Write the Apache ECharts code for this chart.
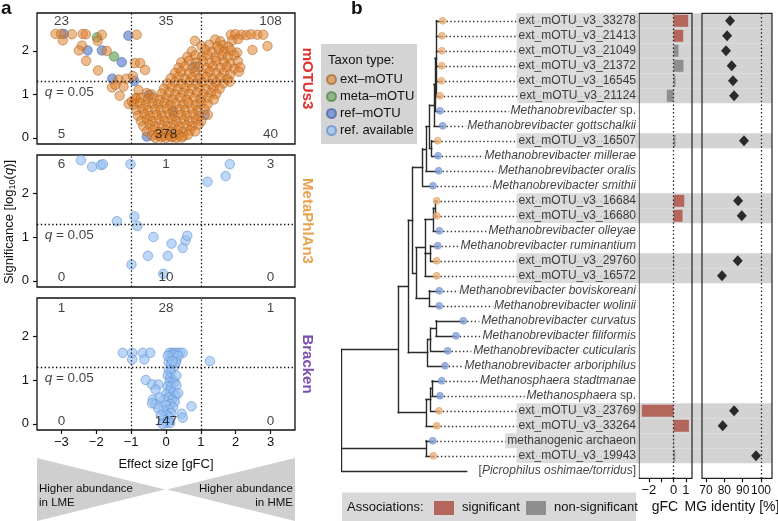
<!DOCTYPE html>
<html><head><meta charset="utf-8">
<script src="https://cdn.jsdelivr.net/npm/echarts@6/dist/echarts.min.js"></script>
<style>html,body{margin:0;padding:0;background:#fff}#c{width:778px;height:521px}</style>
</head><body><div id="c"></div>
<script>
// ---------------- DATA ----------------
// Panel a: mOTUs3 (effect size gFC, significance -log10 q)
const motusExt = [
[-3.17,2.39],[-3.01,2.39],[-2.96,2.24],[-2.7,2.38],[-2.39,2.39],[-2.3,2.38],[-2.41,2.12],[-2.5,2.01],[-2.29,1.77],[-1.96,2.23],[-1.84,2.37],[-1.7,2.0],[-1.95,1.55],[-1.36,1.34],[-1.14,1.36],
[-1.55,1.16],[-1.33,0.97],[-1.07,0.78],[-1.22,1.18],[-1.45,1.22],
[-0.84,2.37],[-0.89,1.72],[-0.74,1.72],[-0.6,1.56],[-0.79,1.1],[-0.98,0.84],[-0.84,0.92],[-0.95,1.42],
[1.86,2.37],[1.99,2.38],[2.16,2.37],[2.31,2.36],[2.44,2.38],[2.62,2.37],[2.79,2.37],
[0.83,2.23],[1.41,2.26],[1.56,2.22],[1.9,2.24],[2.07,2.27],
[1.02,2.11],[1.24,2.14],[1.47,2.1],[1.63,2.13],[1.79,2.09],[2.91,2.11],
[0.74,1.99],[1.12,2.02],[1.31,1.97],[1.52,2.03],[1.67,1.98],[1.86,2.01],[2.04,1.96],[2.48,2.02],
[0.61,1.86],[0.84,1.9],[1.04,1.87],[1.19,1.91],[1.42,1.85],[1.61,1.89],[1.77,1.86],[1.96,1.9],
[0.44,1.74],[0.66,1.77],[0.86,1.73],[1.06,1.76],[1.26,1.72],[1.44,1.77],[1.66,1.74],[1.84,1.71],[2.06,1.76],
[0.36,1.61],[0.54,1.64],[0.76,1.6],[0.94,1.63],[1.16,1.6],[1.34,1.64],[1.56,1.61],[1.74,1.63],[1.96,1.59],[2.13,1.62],
[0.26,1.49],[0.44,1.52],[0.66,1.48],[0.84,1.51],[1.06,1.47],[1.26,1.52],[1.44,1.49],[1.66,1.5],[1.84,1.46],[2.09,1.52],
[0.14,1.37],[0.36,1.4],[0.54,1.36],[0.76,1.39],[0.94,1.37],[1.16,1.4],[1.34,1.36],[1.56,1.38],[1.76,1.35],
[0.04,1.25],[0.26,1.28],[0.44,1.24],[0.66,1.27],[0.86,1.25],[1.04,1.28],[1.26,1.24],[1.44,1.27],[1.64,1.25],[1.83,1.29],
[-0.06,1.13],[0.16,1.16],[0.34,1.12],[0.56,1.15],[0.74,1.13],[0.96,1.16],[1.14,1.12],[1.36,1.15],[1.54,1.13],
[-0.55,1.03],[-0.41,1.0],[-0.12,1.02],[0.09,1.04],[0.27,1.0],[0.49,1.03],[0.67,1.01],[0.89,1.04],[1.07,1.0],[1.29,1.03],[1.44,1.01],
[-0.88,0.9],[-0.71,0.92],[-0.52,0.89],[-0.36,0.91],[-0.17,0.88],[0.01,0.91],[0.19,0.89],[0.41,0.92],[0.59,0.88],[0.81,0.91],[0.99,0.89],[1.21,0.92],[1.37,0.88],
[-0.92,0.77],[-0.74,0.8],[-0.58,0.76],[-0.39,0.79],[-0.23,0.77],[-0.04,0.8],[0.13,0.76],[0.29,0.79],[0.49,0.77],[0.65,0.8],[0.85,0.76],[1.01,0.79],[1.19,0.77],
[-0.85,0.64],[-0.67,0.67],[-0.51,0.63],[-0.31,0.66],[-0.16,0.64],[0.03,0.67],[0.19,0.63],[0.39,0.66],[0.55,0.64],[0.75,0.67],[0.91,0.63],[1.11,0.66],
[-0.8,0.51],[-0.61,0.54],[-0.46,0.5],[-0.27,0.53],[-0.11,0.51],[0.09,0.54],[0.24,0.5],[0.43,0.53],[0.59,0.51],[0.79,0.54],[0.95,0.5],[1.2,0.53],
[-0.72,0.39],[-0.54,0.42],[-0.39,0.38],[-0.19,0.41],[-0.04,0.39],[0.16,0.42],[0.31,0.38],[0.51,0.41],[0.67,0.39],[0.87,0.42],[1.01,0.38],
[-0.65,0.27],[-0.47,0.3],[-0.31,0.26],[-0.11,0.29],[0.04,0.27],[0.23,0.3],[0.39,0.26],[0.59,0.29],[0.75,0.27],[0.93,0.3],
[-0.55,0.15],[-0.37,0.18],[-0.21,0.14],[-0.01,0.17],[0.14,0.15],[0.33,0.18],[0.49,0.14],[0.69,0.17],[0.84,0.15],
[-0.4,0.05],[-0.24,0.07],[-0.1,0.04],[0.06,0.06],[0.19,0.03],[0.36,0.06],[0.5,0.04],[0.63,0.07],
[-0.3,0.0],[-0.14,0.01],[0.0,0.0],[0.16,0.01],[0.3,0.0],[0.45,0.01]
];
const motusMeta = [[-1.98,2.31],[-1.49,1.87]];
const motusRef = [[-2.93,2.39],[-2.25,2.01],[-1.84,2.01],[-1.27,1.74],[-1.08,2.35],[-1.54,1.36],[-0.91,1.31],[-0.49,0.99],[-0.55,0.03],[0.83,1.64],[1.11,0.53],[0.2,0.6]];
// Panel a: MetaPhlAn3
const metaphlanPts = [[-2.44,2.75],[-2.12,2.6],[-1.87,2.64],[-1.81,2.66],[-1.02,2.66],[-1.41,1.36],[-0.91,1.47],[-0.82,1.25],[-0.36,1.0],[-0.52,0.57],[0.05,0.57],[0.16,0.85],[0.48,0.75],[0.56,0.92],[0.61,1.03],[-0.99,0.37],[-0.08,0.16],[1.83,2.66],[1.71,2.39],[1.19,2.26]];
// Panel a: Bracken
const brackenPts = [
[-1.24,1.62],[-0.97,1.62],[-0.97,1.47],[-0.67,1.62],[-0.62,1.47],[-0.45,1.62],[0.1,1.62],[0.18,1.62],[0.25,1.62],[0.32,1.62],[0.4,1.62],[0.48,1.62],[0.12,1.5],[0.2,1.5],[0.3,1.45],[0.08,1.4],[0.15,1.35],[0.25,1.32],[0.22,1.57],[0.35,1.55],[0.05,1.55],[0.28,1.4],[0.18,1.43],[1.26,1.43],
[0.08,1.22],[0.14,1.18],[0.05,1.1],[0.12,1.05],[0.2,1.0],[0.1,0.95],[0.25,0.95],[0.05,0.85],[0.15,0.85],[0.3,0.88],[0.1,0.75],[0.2,0.72],[0.0,0.68],[0.28,0.65],[0.08,0.6],[0.18,0.55],[-0.05,0.55],[0.25,0.5],[0.12,0.45],[0.0,0.42],[0.2,0.38],[0.08,0.32],[-0.08,0.3],[0.15,0.25],[0.02,0.2],[0.1,0.15],[-0.05,0.1],[0.05,0.05],[0.0,0.02],[0.12,0.02],[-0.1,0.0],
[-0.58,1.0],[-0.4,0.9],[-0.22,0.9],[-0.3,0.78],[-0.38,0.55],[-0.3,0.45],[-0.22,0.35],[-0.4,0.47],[-0.18,0.6],[-0.15,0.2],[0.73,0.4],[0.45,0.23],[0.48,0.14],[0.35,0.7],[0.3,1.1]
];
// quadrant counts: [top-left, top-mid, top-right, bottom-left, bottom-mid, bottom-right]
const countsMotus = [23,35,108,5,378,40];
const countsMetaphlan = [6,1,3,0,10,0];
const countsBracken = [1,28,1,0,147,0];
const xTicksA = [-3,-2,-1,0,1,2,3];
const yTicksA = [0,1,2];

// Panel b
const rowLabels = ['ext_mOTU_v3_33278','ext_mOTU_v3_21413','ext_mOTU_v3_21049','ext_mOTU_v3_21372','ext_mOTU_v3_16545','ext_mOTU_v3_21124',
'Methanobrevibacter sp.','Methanobrevibacter gottschalkii','ext_mOTU_v3_16507','Methanobrevibacter millerae','Methanobrevibacter oralis','Methanobrevibacter smithii',
'ext_mOTU_v3_16684','ext_mOTU_v3_16680','Methanobrevibacter olleyae','Methanobrevibacter ruminantium','ext_mOTU_v3_29760','ext_mOTU_v3_16572',
'Methanobrevibacter boviskoreani','Methanobrevibacter wolinii','Methanobrevibacter curvatus','Methanobrevibacter filiformis','Methanobrevibacter cuticularis','Methanobrevibacter arboriphilus',
'Methanosphaera stadtmanae','Methanosphaera sp.','ext_mOTU_v3_23769','ext_mOTU_v3_33264','methanogenic archaeon','ext_mOTU_v3_19943','[Picrophilus oshimae/torridus]'];
const tipTypes = ['ext','ext','ext','ext','ext','ext','ref','ref','ext','ref','ref','ref','ext','ext','ref','ref','ext','ext','ref','ref','ref','ref','ref','ref','ref','ref','ext','ext','ref','ext',null];
const highlightRows = [1,2,3,4,5,6,9,13,14,17,18,27,28,29,30];
const gfcValues = [1.19,0.79,0.41,0.81,0.16,-0.54,null,null,0.16,null,null,null,0.87,0.73,null,null,0.05,null,null,null,null,null,null,null,null,null,-2.57,1.25,0.05,0.14,null];
const gfcSignificant = [1,1,0,0,0,0,0,0,0,0,0,0,1,1,0,0,0,0,0,0,0,0,0,0,0,0,1,1,0,0,0];
const mgIdentity = [83.1,81.5,80.9,84.0,84.7,85.3,null,null,90.7,null,null,null,87.5,89.5,null,null,87.3,78.7,null,null,null,null,null,null,null,null,85.3,79.1,null,97.3,null];
const gfcTicks = [-2,-1,0,1];
const gfcTickLabels = [-2,0,1];
const mgTicks = [70,80,90,100];
// tree (Newick, branch lengths)
const cladeMbrevA = "((((((t1:6.2,t2:5.5,t3:5.2,t4:5.2,t5:4.8,t6:3.5):1.5,t7:5.0):1.0,t8:8.7):4.5,(t9:6.0,t10:6.3):2.2):3.5,t11:12.7):3.3,t12:10.3)";
const cladeMbrevB = "((((t13:1.7,t14:1.7):1.7,t15:6.0):8.3,(t16:7.0,t17:6.0):5.7,t18:11.7):9.0,(t19:10,t20:10):13.3)";
const cladeMbrevC = "(((t21:27.3,t22:20.0):5.3,t23:17.0):3.0,t24:17.3)";
const cladeMsph = "(((t25:9.7,t26:8.0):1.3,t27:8.3):4.7,t28:10.7)";
const cladeOther = "(t29:6.7,t30:7.3)";
const treeNewick = "((((" + cladeMbrevA + ":10," + cladeMbrevB + ":3.3):4.4," + cladeMbrevC + ":19.4):10.0," + cladeMsph + ":27.7):56.6," + cladeOther + ":84.3,t31:125);";

// ---------------- BUILD ----------------
const FF = '"Liberation Sans", Arial, Helvetica, sans-serif';
const C_EXT = 'rgba(224,130,44,0.68)', B_EXT = 'rgba(165,90,25,0.8)';
const C_META = 'rgba(115,170,105,0.9)', B_META = 'rgba(80,130,70,0.9)';
const C_REF = 'rgba(95,130,205,0.85)', B_REF = 'rgba(65,100,170,0.9)';
const C_AV = 'rgba(150,192,242,0.8)', B_AV = 'rgba(95,140,208,0.9)';
const SIG = '#b4665c', NSIG = '#8e8e8e', BAND = '#d3d3d3';
const minus = v => v < 0 ? '\u2212' + Math.abs(v) : String(v);

function parseNewick(s){
  let i = 0;
  function node(){
    const n = {children: [], name: '', len: 0};
    if (s[i] === '('){ i++; n.children.push(node()); while (s[i] === ','){ i++; n.children.push(node()); } i++; }
    let name = ''; while (i < s.length && !':,);'.includes(s[i])) name += s[i++];
    n.name = name;
    if (s[i] === ':'){ i++; let num = ''; while (i < s.length && !',);'.includes(s[i])) num += s[i++]; n.len = parseFloat(num); }
    return n;
  }
  return node();
}
const tree = parseNewick(treeNewick);
const segs = [], tips = [];
(function lay(n, d){
  n.d = d + n.len;
  if (n.children.length){ n.children.forEach(c => lay(c, n.d)); n.y = (n.children[0].y + n.children[n.children.length-1].y) / 2; }
  else { n.y = parseInt(n.name.slice(1)); tips.push(n); }
})(tree, 0);
(function col(n){
  if (!n.children.length) return;
  const ys = n.children.map(c => c.y);
  segs.push({coords: [[n.d, Math.min(...ys)], [n.d, Math.max(...ys)]]});
  n.children.forEach(c => { segs.push({coords: [[n.d, c.y], [c.d, c.y]]}); col(c); });
})(tree);

const TREE_W = 297.3;
const rowIds = rowLabels.map((_, k) => String(k + 1));

function richLabel(s){
  if (s[0] === '[') return '{n|[}{i|' + s.slice(1, -1) + '}{n|]}';
  if (/^Methano/.test(s)) { if (s.endsWith(' sp.')) return '{i|' + s.slice(0, -4) + '}{n| sp.}'; return '{i|' + s + '}'; }
  return '{n|' + s + '}';
}

const dotted = [1.4, 2.4];
function markLinesA(){
  return {silent: true, symbol: 'none', label: {show: false}, animation: false,
    lineStyle: {color: '#111', type: dotted, width: 1.3},
    data: [{xAxis: -1}, {xAxis: 1}, {yAxis: 1.301}]};
}
function countSeries(gi, counts, yTop, yBot){
  const xs = [-3, 0, 3];
  const data = counts.map((c, k) => ({value: [xs[k % 3], k < 3 ? yTop : yBot], label: {formatter: String(c)}}));
  data.push({value: [-3.48, 1.05], label: {formatter: '{i|q}{n| = 0.05}', position: 'right', distance: 0}});
  return {type: 'scatter', xAxisIndex: gi, yAxisIndex: gi, symbolSize: 0, silent: true, z: 6, data,
    label: {show: true, position: 'inside', fontSize: 13.5, color: '#111', fontFamily: FF,
      rich: {i: {fontStyle: 'italic', fontSize: 13.5, fontFamily: FF, color: '#111'}, n: {fontSize: 13.5, fontFamily: FF, color: '#111'}}}};
}
function scatterA(name, gi, data, col, bor, extra){
  return Object.assign({type: 'scatter', name, xAxisIndex: gi, yAxisIndex: gi, data, symbolSize: 9.5, silent: true,
    itemStyle: {color: col, borderColor: bor, borderWidth: 0.8}}, extra || {});
}

const aGrids = [{top: 13, height: 131}, {top: 155, height: 132}, {top: 298, height: 132}];
const grids = aGrids.map(g => ({left: 37, width: 258, top: g.top, height: g.height, show: true, borderColor: '#111', borderWidth: 1.3, backgroundColor: 'transparent'}));
const bTop = 13.3, bH = 465;
grids.push({left: 341.7, width: TREE_W, top: bTop, height: bH, show: false});
grids.push({left: 639, width: 53, top: bTop, height: bH, show: true, borderColor: '#222', borderWidth: 1.2, backgroundColor: 'transparent', z: 3});
grids.push({left: 702, width: 70, top: bTop, height: bH, show: true, borderColor: '#222', borderWidth: 1.2, backgroundColor: 'transparent', z: 3});

const axLabel = {fontSize: 13, color: '#111', fontFamily: FF};
const noLine = {show: false, onZero: false};
const xAxes = [0, 1, 2].map(i => ({type: 'value', gridIndex: i, min: -3.7, max: 3.7,
  axisLine: noLine, splitLine: {show: false},
  axisTick: {show: i === 2, length: 4, lineStyle: {color: '#111', width: 1.2}, customValues: xTicksA},
  axisLabel: Object.assign({show: i === 2, margin: 6, customValues: xTicksA, formatter: minus}, axLabel)}));
xAxes.push({type: 'value', gridIndex: 3, min: 0, max: TREE_W, show: false});
xAxes.push({type: 'value', gridIndex: 4, min: -2.8, max: 1.5, axisLine: noLine, splitLine: {show: false},
  axisTick: {show: true, length: 4, lineStyle: {color: '#111', width: 1.2}, customValues: gfcTicks},
  axisLabel: Object.assign({margin: 6, customValues: gfcTickLabels, formatter: minus}, axLabel)});
xAxes.push({type: 'value', gridIndex: 5, min: 67.8, max: 106, axisLine: noLine, splitLine: {show: false},
  axisTick: {show: true, length: 4, lineStyle: {color: '#111', width: 1.2}, customValues: mgTicks},
  axisLabel: Object.assign({margin: 6, customValues: mgTicks}, axLabel, {fontSize: 12})});

const yAxes = [0, 1, 2].map(i => ({type: 'value', gridIndex: i, min: -0.14, max: 2.87,
  axisLine: noLine, splitLine: {show: false},
  axisTick: {show: true, length: 4, lineStyle: {color: '#111', width: 1.2}, customValues: yTicksA},
  axisLabel: Object.assign({margin: 8, customValues: yTicksA}, axLabel)}));
yAxes.push({type: 'value', gridIndex: 3, min: 0.5, max: 31.5, inverse: true, show: false});
yAxes.push({type: 'category', gridIndex: 4, data: rowIds, inverse: true, show: false});
yAxes.push({type: 'category', gridIndex: 5, data: rowIds, inverse: true, show: false});

function bandSeries(gi, extL, extR){
  return {type: 'custom', xAxisIndex: gi, yAxisIndex: gi, silent: true, z: 0, clip: false,
    data: highlightRows.map(r => [0, r - 1]),
    encode: {x: 0, y: 1},
    renderItem: (params, api) => {
      const p = api.coord([api.value(0), api.value(1)]);
      const h = api.size([0, 1])[1];
      const cs = params.coordSys;
      return {type: 'rect', shape: {x: cs.x - extL, y: p[1] - h / 2, width: cs.width + extL + extR, height: h}, style: {fill: BAND}};
    }};
}

const series = [
  scatterA('ref–mOTU', 0, motusRef, C_REF, B_REF),
  scatterA('meta–mOTU', 0, motusMeta, C_META, B_META),
  scatterA('ext–mOTU', 0, motusExt, C_EXT, B_EXT, {markLine: markLinesA()}),
  scatterA('ref. available', 1, metaphlanPts, C_AV, B_AV, {markLine: markLinesA()}),
  scatterA('ref. available', 2, brackenPts, C_AV, B_AV, {markLine: markLinesA()}),
  countSeries(0, countsMotus, 2.67, 0.08),
  countSeries(1, countsMetaphlan, 2.65, 0.08),
  countSeries(2, countsBracken, 2.64, 0.06),
  // tree
  {type: 'lines', coordinateSystem: 'cartesian2d', xAxisIndex: 3, yAxisIndex: 3, silent: true, z: 3,
    lineStyle: {color: '#2a2a2a', width: 1.4, opacity: 1, cap: 'square'}, data: segs},
  {type: 'lines', coordinateSystem: 'cartesian2d', xAxisIndex: 3, yAxisIndex: 3, silent: true, z: 2,
    lineStyle: {color: '#333', width: 1.3, opacity: 1, type: dotted},
    data: tips.filter(t => tipTypes[t.y - 1]).map(t => ({coords: [[t.d, t.y], [TREE_W, t.y]]}))},
  {type: 'scatter', name: 'tipExt', xAxisIndex: 3, yAxisIndex: 3, silent: true, z: 4, symbolSize: 7,
    itemStyle: {color: '#efb27a', borderColor: '#d9975c', borderWidth: 0.6},
    data: tips.filter(t => tipTypes[t.y - 1] === 'ext').map(t => [t.d, t.y])},
  {type: 'scatter', name: 'tipRef', xAxisIndex: 3, yAxisIndex: 3, silent: true, z: 4, symbolSize: 7,
    itemStyle: {color: '#87a2d9', borderColor: '#6c88c2', borderWidth: 0.6},
    data: tips.filter(t => tipTypes[t.y - 1] === 'ref').map(t => [t.d, t.y])},
  {type: 'scatter', xAxisIndex: 3, yAxisIndex: 3, silent: true, z: 8, symbolSize: 0,
    data: rowLabels.map((s, k) => ({value: [TREE_W, k + 1],
      label: {formatter: richLabel(s), backgroundColor: highlightRows.includes(k + 1) ? BAND : '#ffffff'}})),
    label: {show: true, position: 'left', distance: 0, padding: [1, 3, 1, 2],
      rich: {n: {fontSize: 12, fontFamily: FF, color: '#111', lineHeight: 13},
             i: {fontSize: 12, fontFamily: FF, color: '#111', fontStyle: 'italic', lineHeight: 13}}}},
  // gFC
  bandSeries(4, 3, 10),
  {type: 'bar', xAxisIndex: 4, yAxisIndex: 4, silent: true, z: 2, barWidth: 12,
    data: gfcValues.map((v, k) => v === null ? '-' : {value: v, itemStyle: {color: gfcSignificant[k] ? SIG : NSIG}}),
    markLine: {silent: true, symbol: 'none', label: {show: false}, lineStyle: {color: '#222', type: dotted, width: 1.3}, data: [{xAxis: 0}]}},
  // MG identity
  bandSeries(5, 0, 0),
  {type: 'scatter', xAxisIndex: 5, yAxisIndex: 5, silent: true, z: 3, symbol: 'diamond', symbolSize: [10, 11],
    itemStyle: {color: '#000'},
    data: mgIdentity.map((v, k) => v === null ? null : [v, k]).filter(d => d),
    markLine: {silent: true, symbol: 'none', label: {show: false}, lineStyle: {color: '#222', type: dotted, width: 1.3}, data: [{xAxis: 100}]}}
];

const T = (text, x, y, o) => Object.assign({type: 'text', x, y, silent: true, z: 20,
  style: Object.assign({text, fill: '#111', fontFamily: FF, fontSize: 13, textAlign: 'left', textVerticalAlign: 'middle'}, (o && o.style) || {})},
  o ? (({style, ...r}) => r)(o) : {});

const graphic = [
  T('a', 1, 9, {style: {fontSize: 19, fontWeight: 'bold'}}),
  T('b', 351, 9, {style: {fontSize: 19, fontWeight: 'bold'}}),
  T('{a|Significance [log}{s|10}{a|(}{q|q}{a|)]}', 9, 222, {rotation: Math.PI / 2, style: {textAlign: 'center',
    rich: {a: {fontSize: 13, fontFamily: FF, fill: '#111'}, s: {fontSize: 9, fontFamily: FF, fill: '#111', padding: [7, 0, 0, 0]}, q: {fontSize: 13, fontFamily: FF, fill: '#111', fontStyle: 'italic'}}}}),
  T('mOTUs3', 307, 78.5, {rotation: -Math.PI / 2, style: {textAlign: 'center', fill: '#e0302b', fontWeight: 'bold', fontSize: 15}}),
  T('MetaPhlAn3', 307, 221, {rotation: -Math.PI / 2, style: {textAlign: 'center', fill: '#e9a24e', fontWeight: 'bold', fontSize: 15}}),
  T('Bracken', 307, 364, {rotation: -Math.PI / 2, style: {textAlign: 'center', fill: '#7b4fae', fontWeight: 'bold', fontSize: 15}}),
  T('Effect size [gFC]', 166, 464, {style: {textAlign: 'center', fontSize: 13}}),
  {type: 'polygon', silent: true, z: 1, shape: {points: [[37, 458], [165, 489.5], [37, 521]]}, style: {fill: '#cfcfcf'}},
  {type: 'polygon', silent: true, z: 1, shape: {points: [[295, 458], [167, 489.5], [295, 521]]}, style: {fill: '#cfcfcf'}},
  T('Higher abundance', 39, 489, {style: {fontSize: 11.5}}),
  T('in LME', 39, 503, {style: {fontSize: 11.5}}),
  T('Higher abundance', 293, 489, {style: {fontSize: 11.5, textAlign: 'right'}}),
  T('in HME', 293, 503, {style: {fontSize: 11.5, textAlign: 'right'}}),
  {type: 'rect', silent: true, z: 1, shape: {x: 321, y: 44, width: 96, height: 100}, style: {fill: '#d4d4d4'}},
  T('Taxon type:', 328, 60, {style: {fontSize: 13}}),
  {type: 'rect', silent: true, z: 1, shape: {x: 342, y: 492.5, width: 294, height: 30}, style: {fill: '#d9d9d9'}},
  T('Associations:', 347, 507, {style: {fontSize: 13}}),
  {type: 'rect', silent: true, z: 2, shape: {x: 434, y: 501, width: 20, height: 14}, style: {fill: SIG}},
  T('significant', 462, 507, {style: {fontSize: 13}}),
  {type: 'rect', silent: true, z: 2, shape: {x: 526, y: 501, width: 20, height: 14}, style: {fill: NSIG}},
  T('non-significant', 554, 507, {style: {fontSize: 13}}),
  T('gFC', 665, 507, {style: {textAlign: 'center', fontSize: 14}}),
  T('MG identity [%]', 732, 507, {style: {textAlign: 'center', fontSize: 14}})
];

const chart = echarts.init(document.getElementById('c'), null, {renderer: 'canvas'});
chart.setOption({
  animation: false,
  backgroundColor: '#ffffff',
  textStyle: {fontFamily: FF},
  grid: grids, xAxis: xAxes, yAxis: yAxes,
  legend: {data: ['ext–mOTU', 'meta–mOTU', 'ref–mOTU', 'ref. available'], orient: 'vertical', left: 326, top: 73,
    padding: 0, itemWidth: 9, itemHeight: 9, itemGap: 4, icon: 'circle', selectedMode: false, z: 10,
    textStyle: {fontSize: 13, color: '#111', fontFamily: FF, padding: [0, 0, 0, -1]}},
  series, graphic
});
</script></body></html>
